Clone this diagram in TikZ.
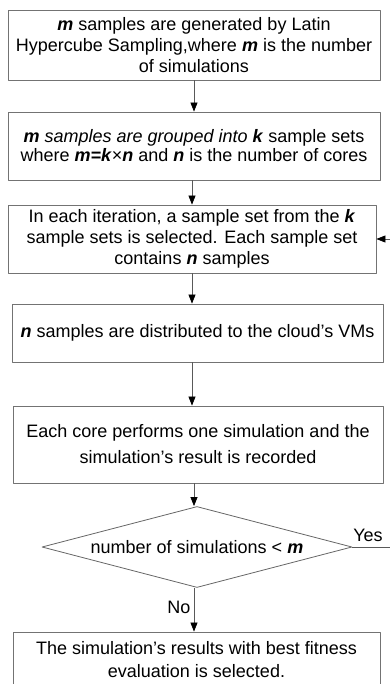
\documentclass[tikz,border=0pt]{standalone}
\usepackage{fontspec}
\setmainfont{Liberation Sans}
\usetikzlibrary{arrows.meta,shapes.geometric}
\newcommand{\bi}[1]{\textbf{\textit{#1}}}
\begin{document}
\begin{tikzpicture}[x=1pt,y=-1pt,line join=round,>={Triangle[length=9pt,width=7pt,color=black]},
	font=\fontsize{18}{21}\selectfont,
	box/.style={draw=black!55,line width=0.8pt,align=center,inner sep=0pt},
	flow/.style={->,draw=black!65,line width=0.7pt}]
	\useasboundingbox (0,0) rectangle (389,684);
	% Các khối xử lý
	\node[box,minimum width=372pt,minimum height=70pt] (b1) at (194,45)
	{\bi{m} samples are generated by Latin\\ Hypercube Sampling,where \bi{m} is the number\\ of simulations};
	\node[box,minimum width=372pt,minimum height=68pt] (b2) at (194,146)
	{\bi{m} \textit{samples are grouped into} \bi{k} sample sets\\[-2pt] where \bi{m=k}×\bi{n} and \bi{n} is the number of cores};
	\node[box,minimum width=368pt,minimum height=68pt] (b3) at (192,239)
	{In each iteration, a sample set from the \bi{k}\\ sample sets is selected. Each sample set\\ contains \bi{n} samples};
	\node[box,minimum width=371pt,minimum height=58pt] (b4) at (197.5,333)
	{\bi{n} samples are distributed to the cloud's VMs};
	\node[box,minimum width=370pt,minimum height=77pt] (b5) at (198,444.5)
	{Each core performs one simulation and the\\[5pt] simulation's result is recorded};
	\node[box,draw=black!60,diamond,aspect=4,minimum width=310pt,minimum height=81pt] (d) at (197,547)
	{number of simulations < \bi{m}};
	\node[box,minimum width=367pt,minimum height=56pt] (b6) at (196.5,660)
	{The simulation's results with best fitness\\[2pt] evaluation is selected.};
	% Vòng lặp bên phải (ra ngoài khung)
	\path (395,547) coordinate (r1)
	(395,239) coordinate (r2);
	% Các mũi tên
	\draw[flow] (b1.south) -- (b1.south |- b2.north);
	\draw[flow] (b2.south -| b3) -- (b3.north);
	\draw[flow] (b3.south) -- (b3.south |- b4.north);
	\draw[flow] (b4.south -| b3) -- (b5.north -| b3);
	\draw[flow] (b5.south -| b1) -- (d.north -| b1);
	\draw[flow] (d.south -| b1) -- (b6.north -| b1) node[left,pos=0.45,text=black] {No};
	\draw[draw=black!65,line width=0.7pt] (d.east) -- (r1) -- (r2);
	\draw[flow] (r2) -- (b3.east);
	\node[anchor=south] (yes) at (368,545) {Yes};
\end{tikzpicture}
\end{document}
